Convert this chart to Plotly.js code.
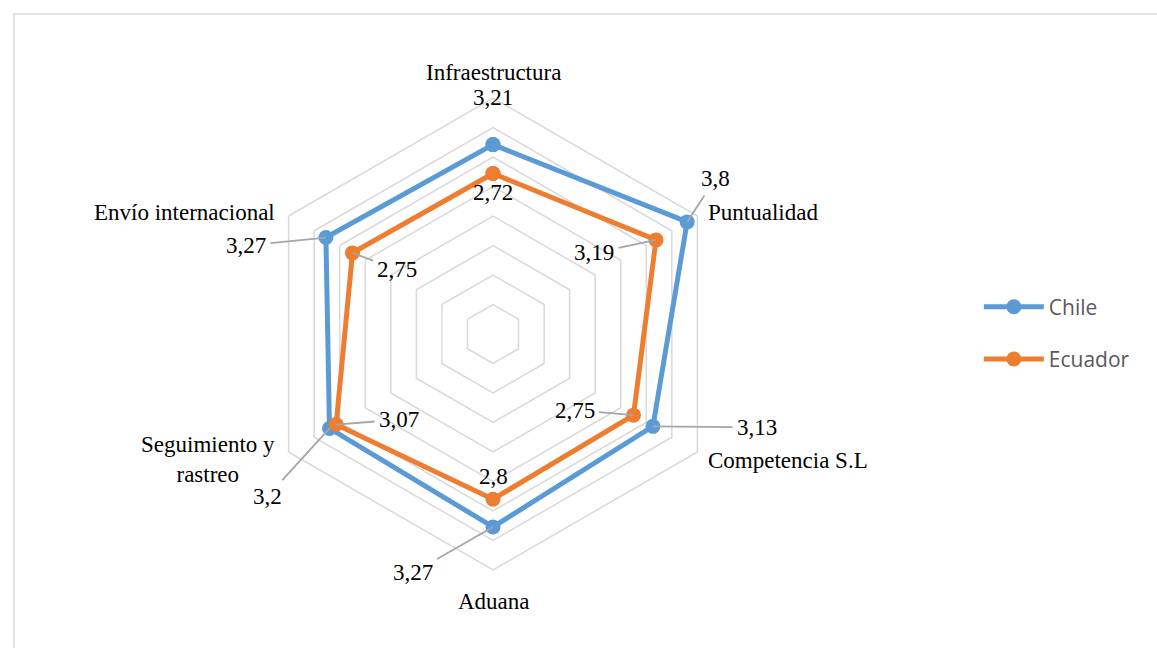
<!DOCTYPE html>
<html>
<head>
<meta charset="utf-8">
<script src="https://cdn.plot.ly/plotly-3.0.1.min.js"></script>
<style>html,body{margin:0;padding:0;background:#fff;}#chart{width:1157px;height:648px;}</style>
</head>
<body>
<div id="chart"></div>
<script>
// ---- data ----
var categories = ["Infraestructura", "Puntualidad", "Competencia S.L", "Aduana", "Seguimiento y rastreo", "Envío internacional"];
var categoryLabels = ["Infraestructura", "Puntualidad", "Competencia S.L", "Aduana", "Seguimiento y<br>rastreo", "Envío internacional"];
var chile = [3.21, 3.8, 3.13, 3.27, 3.2, 3.27];
var ecuador = [2.72, 3.19, 2.75, 2.8, 3.07, 2.75];
var seriesNames = ["Chile", "Ecuador"];

// ---- styles / layout ----
var W = 1157, H = 648;
var CX = 493, CY = 334, R = 236, RMAX = 4;
var colors = ["#5b9bd5", "#ed7d31"];
var serif = "Liberation Serif, Times New Roman, serif";
var labelFont = {family: serif, size: 23, color: "#000"};

// label offsets in pixels (text centre relative to point); third item = draw leader line
var chileOff = [[0,-47,false],[28,-43,true],[104,1,true],[-80,46,true],[-62,68,true],[-80,8,true]];
var ecuOff   = [[0,19,false],[-62,13,true],[-59,-5,true],[0,-23,false],[63,-5,true],[45,17,true]];
// category label anchors in pixels [x, y, xanchor]
var catPos = [[493,73,"center"],[706,212,"left"],[706,460,"left"],[494,601,"center"],[277,459,"right"],[277,212,"right"]];

function fmt(v){ return String(v).replace(".", ","); }
function toPaper(v, i){
  var th = i * Math.PI / 3;
  var rp = v / RMAX * R;
  var px = CX + rp * Math.sin(th);
  var py = CY - rp * Math.cos(th);
  return [px / W, 1 - py / H];
}

var closedCats = categories.concat([categories[0]]);
var traces = [chile, ecuador].map(function(vals, k){
  return {
    type: "scatterpolar",
    r: vals.concat([vals[0]]),
    theta: closedCats,
    mode: "lines+markers",
    name: seriesNames[k],
    legendgroup: seriesNames[k],
    line: {color: colors[k], width: 5},
    marker: {color: colors[k], size: 15},
    hoverinfo: "skip"
  };
});

var annotations = [];
[[chile, chileOff], [ecuador, ecuOff]].forEach(function(pair){
  var vals = pair[0], offs = pair[1];
  vals.forEach(function(v, i){
    var p = toPaper(v, i);
    var o = offs[i];
    if (o[2]) {
      annotations.push({xref:"paper", yref:"paper", x:p[0], y:p[1], text:fmt(v), showarrow:true,
        ax:o[0], ay:o[1], arrowhead:0, arrowwidth:1.8, arrowcolor:"#a6a6a6", standoff:0, startstandoff:3,
        font:labelFont});
    } else {
      annotations.push({xref:"paper", yref:"paper", x:p[0], y:p[1], text:fmt(v), showarrow:false,
        xanchor:"center", yanchor:"middle", xshift:o[0], yshift:-o[1], font:labelFont});
    }
  });
});
categoryLabels.forEach(function(t, i){
  annotations.push({xref:"paper", yref:"paper", x:catPos[i][0]/W, y:1-catPos[i][1]/H, text:t,
    showarrow:false, xanchor:catPos[i][2], yanchor:"middle", align:"center", font:labelFont});
});

var layout = {
  width: W, height: H,
  margin: {l:0, r:0, t:0, b:0},
  paper_bgcolor: "#fff",
  showlegend: true,
  hovermode: false,
  legend: {x: 0.846, y: 0.486, xanchor: "left", yanchor: "middle", traceorder: "grouped", tracegroupgap: 22,
           font: {family: "Open Sans, Liberation Sans, sans-serif", size: 21, color: "#595959"}, itemwidth: 60},
  polar: {
    domain: {x: [(CX - R)/W, (CX + R)/W], y: [1 - (CY + R)/H, 1 - (CY - R)/H]},
    gridshape: "linear",
    bgcolor: "rgba(0,0,0,0)",
    radialaxis: {range: [0, RMAX], dtick: 0.5, tick0: 0, showticklabels: false, ticks: "", showline: false,
                 gridcolor: "#d9d9d9", gridwidth: 1.5},
    angularaxis: {rotation: 90, direction: "clockwise", showticklabels: false, ticks: "", showgrid: false,
                  showline: true, linecolor: "#d9d9d9", linewidth: 1.5}
  },
  annotations: annotations,
  shapes: [{type: "rect", xref: "paper", yref: "paper", x0: 14/W, x1: 1.01, y0: -0.01, y1: 1 - 14/H,
            line: {color: "#d9d9d9", width: 1.5}, fillcolor: "rgba(0,0,0,0)", layer: "below"}]
};

Plotly.newPlot("chart", traces, layout, {displayModeBar: false, staticPlot: true});
</script>
</body>
</html>
